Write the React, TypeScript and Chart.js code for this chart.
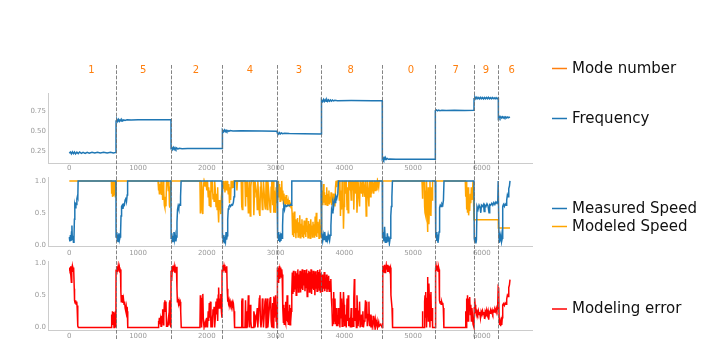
import React, { useEffect, useRef } from 'react';
import { Chart, registerables } from 'chart.js';

Chart.register(...registerables);

const W = 717;
const H = 339;
const X_MIN = -310;
const X_MAX = 6730;

const xTicks = [0, 1000, 2000, 3000, 4000, 5000, 6000];
const freqTicks = [0.25, 0.5, 0.75];
const unitTicks = [0, 0.5, 1];

const modeNumbers = ['1', '5', '2', '4', '3', '8', '0', '7', '9', '6'];
const modeLabelX = [320, 1076, 1843, 2628, 3341, 4093, 4970, 5620, 6061, 6435];
const modeBoundaries = [679, 1479, 2221, 3021, 3661, 4552, 5323, 5886, 6240];

type P = [number, number];

const frequency: P[] = [
  [0, 0.23], [15, 0.245], [30, 0.222], [45, 0.248], [60, 0.225], [75, 0.245], [90, 0.222], [110, 0.243], [130, 0.226], [150, 0.245], [175, 0.228], [200, 0.242], [230, 0.228], [260, 0.242], [290, 0.23], [330, 0.242], [370, 0.232], [410, 0.243], [450, 0.232], [500, 0.241], [550, 0.233], [600, 0.242], [640, 0.233], [679, 0.24],
  [680, 0.625], [692, 0.645], [704, 0.62], [716, 0.645], [728, 0.622], [740, 0.642], [752, 0.625], [764, 0.643], [778, 0.628], [792, 0.64], [810, 0.632], [840, 0.64], [900, 0.637], [1000, 0.64], [1200, 0.641], [1400, 0.642], [1479, 0.642],
  [1480, 0.285], [1490, 0.3], [1502, 0.275], [1514, 0.3], [1526, 0.277], [1538, 0.298], [1550, 0.279], [1562, 0.295], [1580, 0.282], [1600, 0.292], [1640, 0.285], [1720, 0.289], [1900, 0.287], [2100, 0.288], [2221, 0.289],
  [2222, 0.5], [2232, 0.515], [2244, 0.494], [2256, 0.515], [2268, 0.495], [2280, 0.513], [2292, 0.497], [2306, 0.51], [2320, 0.5], [2340, 0.508], [2380, 0.503], [2500, 0.505], [2800, 0.503], [3021, 0.5],
  [3022, 0.47], [3034, 0.485], [3046, 0.465], [3058, 0.482], [3070, 0.468], [3085, 0.48], [3100, 0.47], [3130, 0.476], [3200, 0.472], [3400, 0.47], [3661, 0.466],
  [3662, 0.87], [3674, 0.888], [3686, 0.865], [3698, 0.89], [3710, 0.866], [3722, 0.887], [3734, 0.868], [3746, 0.888], [3758, 0.867], [3770, 0.886], [3784, 0.869], [3798, 0.885], [3812, 0.87], [3828, 0.883], [3844, 0.872], [3862, 0.88], [3900, 0.876], [4100, 0.877], [4400, 0.876], [4552, 0.876],
  [4553, 0.16], [4563, 0.175], [4573, 0.152], [4583, 0.172], [4593, 0.153], [4603, 0.17], [4613, 0.155], [4625, 0.166], [4640, 0.156], [4660, 0.16], [4750, 0.156], [5000, 0.155], [5323, 0.155],
  [5324, 0.752], [5340, 0.762], [5356, 0.75], [5372, 0.76], [5390, 0.752], [5420, 0.758], [5480, 0.755], [5600, 0.757], [5750, 0.755], [5886, 0.757],
  [5887, 0.9], [5900, 0.92], [5914, 0.898], [5928, 0.918], [5942, 0.9], [5956, 0.915], [5970, 0.897], [5984, 0.917], [5998, 0.9], [6012, 0.914], [6026, 0.898], [6040, 0.915], [6054, 0.9], [6068, 0.914], [6082, 0.899], [6096, 0.916], [6110, 0.9], [6124, 0.913], [6138, 0.898], [6152, 0.915], [6166, 0.9], [6180, 0.912], [6194, 0.899], [6208, 0.913], [6222, 0.9], [6240, 0.91],
  [6241, 0.665], [6252, 0.682], [6264, 0.662], [6276, 0.68], [6288, 0.664], [6300, 0.678], [6312, 0.663], [6324, 0.677], [6336, 0.665], [6348, 0.676], [6360, 0.664], [6372, 0.675], [6384, 0.666], [6396, 0.674], [6410, 0.668],
];

const measuredSpeed: P[] = [
  [0, 0.12], [8, 0.05], [16, 0.15], [24, 0.06], [32, 0.2], [38, 0.3], [44, 0.08], [52, 0.14], [60, 0.04], [68, 0.1], [74, 0.4], [80, 0.62], [88, 0.58], [96, 0.64], [104, 0.63], [110, 0.72], [118, 0.76], [124, 0.74], [128, 1.0], [679, 1.0],
  [680, 0.12], [690, 0.2], [698, 0.06], [706, 0.16], [714, 0.05], [722, 0.18], [730, 0.08], [738, 0.12], [746, 0.2], [752, 0.45], [760, 0.6], [770, 0.62], [780, 0.56], [790, 0.63], [800, 0.62], [812, 0.7], [822, 0.74], [832, 0.68], [842, 0.78], [848, 1.0], [1479, 1.0],
  [1481, 0.1], [1490, 0.18], [1498, 0.05], [1506, 0.14], [1514, 0.06], [1522, 0.2], [1530, 0.08], [1540, 0.15], [1550, 0.05], [1558, 0.12], [1566, 0.35], [1574, 0.55], [1582, 0.6], [1592, 0.56], [1600, 0.63], [1610, 0.62], [1618, 0.75], [1626, 1.0], [2221, 1.0],
  [2223, 0.1], [2232, 0.18], [2240, 0.05], [2248, 0.15], [2256, 0.03], [2264, 0.12], [2272, 0.06], [2280, 0.2], [2288, 0.08], [2296, 0.14], [2304, 0.4], [2312, 0.56], [2322, 0.6], [2334, 0.62], [2346, 0.6], [2360, 0.63], [2374, 0.62], [2386, 0.66], [2396, 0.75], [2404, 1.0], [3021, 1.0],
  [3030, 0.1], [3038, 0.2], [3046, 0.06], [3054, 0.16], [3062, 0.04], [3070, 0.12], [3078, 0.06], [3086, 0.18], [3094, 0.1], [3102, 0.3], [3110, 0.56], [3120, 0.6], [3130, 0.55], [3140, 0.62], [3160, 0.6], [3180, 0.62], [3200, 0.61], [3220, 0.63], [3230, 0.62], [3236, 1.0], [3661, 1.0],
  [3665, 0.12], [3675, 0.18], [3685, 0.06], [3695, 0.15], [3705, 0.08], [3715, 0.2], [3725, 0.1], [3735, 0.05], [3745, 0.14], [3755, 0.08], [3765, 0.16], [3775, 0.1], [3785, 0.06], [3795, 0.15], [3805, 0.3], [3815, 0.55], [3825, 0.5], [3835, 0.65], [3845, 0.6], [3855, 0.7], [3865, 0.66], [3875, 0.76], [3890, 0.72], [3905, 0.8], [3915, 1.0], [4552, 1.0],
  [4556, 0.1], [4566, 0.2], [4576, 0.05], [4586, 0.28], [4596, 0.04], [4606, 0.12], [4616, 0.03], [4626, 0.18], [4636, 0.06], [4646, 0.13], [4656, 0.02], [4666, 0.1], [4676, 0.45], [4684, 0.6], [4692, 0.75], [4700, 1.0], [5323, 1.0],
  [5330, 0.12], [5338, 0.2], [5346, 0.06], [5354, 0.16], [5362, 0.03], [5370, 0.1], [5378, 0.2], [5386, 0.58], [5396, 0.62], [5408, 0.6], [5420, 0.64], [5432, 0.62], [5442, 0.7], [5450, 1.0], [5886, 1.0],
  [5890, 0.1], [5898, 0.04], [5906, 0.12], [5914, 0.02], [5922, 0.08], [5930, 0.6], [5945, 0.55], [5960, 0.62], [5975, 0.58], [5985, 0.5], [5995, 0.62], [6010, 0.6], [6025, 0.63], [6035, 0.52], [6045, 0.62], [6060, 0.6], [6075, 0.64], [6090, 0.61], [6105, 0.5], [6115, 0.63], [6130, 0.62], [6145, 0.65], [6160, 0.62], [6175, 0.66], [6190, 0.63], [6205, 0.67], [6220, 0.65], [6232, 0.68], [6238, 1.0], [6245, 1.0],
  [6250, 0.1], [6258, 0.03], [6266, 0.12], [6274, 0.05], [6282, 0.14], [6290, 0.06], [6298, 0.1], [6304, 0.6], [6315, 0.63], [6328, 0.6], [6340, 0.64], [6352, 0.62], [6362, 0.7], [6372, 0.78], [6382, 0.75], [6392, 0.88], [6402, 0.92], [6410, 1.0],
];

const modeledSpeed: P[] = [
  [0, 1.0], [612, 1.0], [616, 0.8], [622, 1.0], [628, 0.75], [636, 0.9], [642, 0.76], [650, 1.0], [656, 0.78], [664, 0.85], [670, 0.75], [676, 0.95], [679, 1.0],
  [1290, 1.0], [1296, 0.85], [1302, 1.0], [1310, 0.8], [1318, 0.95], [1326, 0.82], [1334, 1.0], [1342, 0.78], [1350, 0.9], [1358, 0.7], [1366, 1.0], [1374, 0.85], [1382, 0.62], [1390, 0.58], [1398, 0.75], [1406, 0.6], [1414, 1.0], [1430, 1.0], [1440, 0.85], [1448, 1.0], [1456, 0.62], [1462, 0.58], [1468, 0.9], [1479, 1.0],
  [1900, 1.0], [1906, 0.5], [1912, 0.85], [1918, 0.6], [1924, 1.0], [1934, 0.55], [1942, 0.48], [1950, 0.9], [1960, 1.0], [1975, 0.92], [1985, 1.0], [2000, 0.85], [2010, 1.0], [2020, 0.75], [2028, 0.9], [2036, 0.62], [2044, 0.85], [2052, 0.6], [2060, 1.0], [2070, 0.9], [2080, 1.0], [2090, 0.72], [2098, 0.8], [2106, 0.68], [2114, 1.0], [2124, 0.85], [2134, 0.6], [2142, 0.8], [2150, 0.55], [2158, 0.9], [2166, 0.5], [2172, 0.35], [2180, 0.7], [2188, 0.55], [2196, 0.6], [2204, 0.48], [2212, 0.75], [2221, 0.85],
  [2224, 0.95], [2232, 0.85], [2240, 1.0], [2248, 0.88], [2256, 0.95], [2264, 0.82], [2272, 1.0], [2280, 0.9], [2288, 0.85], [2296, 1.0], [2304, 0.9], [2312, 0.8], [2320, 0.95], [2330, 0.65], [2338, 0.9], [2346, 0.7], [2354, 1.0], [2364, 0.88], [2374, 1.0], [2384, 0.9], [2394, 1.0],
  [2430, 1.0], [2438, 0.85], [2446, 1.0], [2500, 1.0], [2508, 0.6], [2516, 0.55], [2524, 1.0], [2555, 1.0], [2563, 0.6], [2570, 1.0], [2582, 0.75], [2590, 1.0], [2604, 0.5], [2612, 0.8], [2620, 1.0], [2632, 0.45], [2640, 0.9], [2648, 1.0], [2676, 1.0], [2684, 0.46], [2692, 0.75], [2700, 1.0], [2726, 0.8], [2734, 0.55], [2742, 1.0], [2764, 0.5], [2772, 0.45], [2780, 0.9], [2788, 1.0], [2808, 0.55], [2816, 0.7], [2824, 1.0], [2846, 0.6], [2854, 0.55], [2862, 1.0], [2872, 0.7], [2880, 0.55], [2888, 1.0], [2920, 0.55], [2928, 0.5], [2936, 0.9], [2945, 1.0], [2958, 0.62], [2966, 1.0], [2975, 0.5], [2983, 0.85], [2992, 0.55], [3000, 0.5], [3008, 0.9], [3015, 0.65], [3021, 1.0],
  [3026, 0.9], [3034, 0.7], [3042, 1.0], [3050, 0.75], [3058, 0.95], [3066, 0.68], [3074, 0.9], [3082, 0.72], [3090, 1.0], [3098, 0.7], [3106, 0.85], [3114, 0.64], [3122, 0.8], [3130, 0.66], [3138, 0.75], [3146, 0.62], [3154, 0.78], [3162, 0.64], [3170, 0.72], [3178, 0.6], [3186, 0.68], [3194, 0.62], [3202, 0.7], [3210, 0.6], [3218, 0.66], [3226, 0.58], [3234, 0.62],
  [3240, 0.5], [3248, 0.15], [3256, 0.45], [3264, 0.12], [3272, 0.52], [3280, 0.18], [3288, 0.4], [3296, 0.1], [3304, 0.38], [3312, 0.2], [3320, 0.42], [3328, 0.12], [3336, 0.35], [3344, 0.15], [3352, 0.46], [3360, 0.11], [3368, 0.33], [3376, 0.18], [3384, 0.4], [3392, 0.12], [3400, 0.3], [3408, 0.1], [3416, 0.38], [3424, 0.16], [3432, 0.35], [3440, 0.12], [3448, 0.42], [3456, 0.2], [3464, 0.3], [3472, 0.11], [3480, 0.37], [3488, 0.14], [3496, 0.33], [3504, 0.1], [3512, 0.4], [3520, 0.18], [3528, 0.3], [3536, 0.12], [3544, 0.36], [3552, 0.15], [3560, 0.32], [3568, 0.11], [3576, 0.44], [3584, 0.14], [3592, 0.5], [3600, 0.12], [3608, 0.36], [3616, 0.18], [3624, 0.33], [3632, 0.1], [3640, 0.4], [3648, 0.14], [3656, 0.3], [3661, 0.12],
  [3664, 0.8], [3672, 0.65], [3680, 0.85], [3688, 0.62], [3696, 0.95], [3704, 0.66], [3712, 0.82], [3720, 0.63], [3728, 0.78], [3736, 0.64], [3744, 0.9], [3752, 0.62], [3760, 0.8], [3768, 0.65], [3776, 0.85], [3784, 0.63], [3792, 0.75], [3800, 0.66], [3808, 0.82], [3816, 0.62], [3824, 0.7], [3832, 0.64], [3840, 0.8], [3848, 0.62], [3856, 0.72], [3864, 0.6], [3872, 0.9], [3880, 1.0],
  [3890, 0.9], [3898, 1.0], [3920, 1.0], [3928, 0.7], [3936, 1.0], [3944, 0.45], [3952, 0.85], [3960, 0.55], [3968, 1.0], [3980, 0.75], [3988, 0.25], [3996, 0.6], [4004, 1.0], [4020, 0.8], [4028, 1.0], [4040, 0.55], [4048, 0.9], [4056, 0.5], [4064, 1.0], [4080, 0.85], [4088, 1.0], [4100, 0.7], [4108, 1.0], [4120, 0.85], [4130, 1.0], [4138, 0.55], [4146, 0.9], [4154, 1.0], [4168, 0.8], [4176, 1.0], [4184, 0.5], [4192, 0.7], [4200, 1.0], [4214, 0.75], [4222, 0.6], [4230, 1.0], [4250, 0.8], [4258, 1.0], [4270, 0.75], [4278, 1.0], [4300, 0.75], [4308, 1.0], [4318, 0.45], [4326, 0.6], [4334, 1.0], [4350, 0.75], [4358, 0.6], [4366, 1.0], [4380, 0.75], [4388, 1.0], [4400, 0.8], [4408, 1.0], [4428, 0.8], [4436, 1.0], [4450, 0.85], [4458, 1.0], [4475, 0.85], [4483, 1.0], [4500, 0.9], [4508, 1.0], [4552, 1.0],
  [5130, 1.0], [5136, 0.72], [5142, 1.0], [5160, 1.0], [5168, 0.6], [5174, 0.5], [5180, 0.85], [5188, 0.45], [5196, 1.0], [5204, 0.55], [5210, 0.2], [5216, 0.3], [5222, 0.9], [5230, 0.32], [5238, 0.6], [5246, 1.0], [5252, 0.5], [5260, 0.45], [5268, 0.9], [5276, 0.7], [5284, 1.0], [5323, 1.0],
  [5760, 1.0], [5766, 0.75], [5772, 1.0], [5780, 0.55], [5786, 0.85], [5792, 0.5], [5800, 0.9], [5808, 0.46], [5816, 0.6], [5824, 0.53], [5832, 0.8], [5840, 0.65], [5848, 0.9], [5856, 0.7], [5864, 0.8], [5872, 1.0], [5886, 1.0],
  [5887, 0.39], [6240, 0.39],
  [6241, 0.26], [6410, 0.26],
];

const modelingError: P[] = [
  [0, 0.88], [6, 0.93], [12, 0.85], [18, 0.95], [24, 0.82], [30, 0.7], [36, 0.9], [42, 0.94], [48, 0.86], [54, 0.92], [60, 0.88], [66, 0.93], [72, 0.6], [76, 0.42], [84, 0.38], [92, 0.42], [100, 0.36], [108, 0.4], [114, 0.3], [120, 0.34], [126, 0.02], [132, 0.0], [612, 0.0], [616, 0.2], [622, 0.05], [628, 0.25], [636, 0.1], [642, 0.24], [650, 0.0], [656, 0.22], [664, 0.15], [670, 0.25], [676, 0.05], [679, 0.0],
  [680, 0.9], [686, 0.95], [692, 0.82], [698, 0.94], [704, 0.86], [712, 0.95], [720, 0.88], [728, 0.93], [736, 0.85], [744, 0.9], [750, 0.55], [756, 0.4], [764, 0.42], [772, 0.5], [780, 0.38], [788, 0.44], [796, 0.36], [804, 0.4], [812, 0.3], [820, 0.26], [828, 0.32], [836, 0.22], [844, 0.25], [850, 0.0], [1290, 0.0], [1296, 0.1], [1302, 0.02], [1310, 0.15], [1318, 0.05], [1326, 0.12], [1334, 0.02], [1342, 0.18], [1350, 0.08], [1358, 0.28], [1366, 0.04], [1374, 0.15], [1382, 0.38], [1390, 0.42], [1398, 0.25], [1406, 0.4], [1414, 0.02], [1430, 0.02], [1440, 0.12], [1448, 0.03], [1456, 0.38], [1462, 0.42], [1468, 0.1], [1476, 0.05], [1479, 0.0],
  [1480, 0.88], [1486, 0.95], [1492, 0.72], [1498, 0.93], [1504, 0.86], [1510, 0.96], [1518, 0.88], [1526, 0.94], [1534, 0.85], [1542, 0.92], [1550, 0.88], [1558, 0.94], [1566, 0.6], [1572, 0.4], [1580, 0.44], [1588, 0.37], [1596, 0.42], [1604, 0.38], [1612, 0.4], [1620, 0.25], [1628, 0.0], [1900, 0.0], [1906, 0.5], [1912, 0.15], [1918, 0.4], [1924, 0.0], [1934, 0.45], [1942, 0.52], [1950, 0.1], [1960, 0.0], [1975, 0.08], [1985, 0.0], [2000, 0.15], [2010, 0.0], [2020, 0.25], [2028, 0.1], [2036, 0.38], [2044, 0.15], [2052, 0.4], [2060, 0.0], [2070, 0.1], [2080, 0.0], [2090, 0.28], [2098, 0.2], [2106, 0.32], [2114, 0.0], [2124, 0.15], [2134, 0.4], [2142, 0.2], [2150, 0.45], [2158, 0.1], [2166, 0.5], [2172, 0.62], [2180, 0.3], [2188, 0.45], [2196, 0.4], [2204, 0.52], [2212, 0.25], [2220, 0.15],
  [2222, 0.9], [2228, 0.96], [2234, 0.85], [2240, 0.97], [2246, 0.88], [2252, 0.95], [2258, 0.9], [2264, 0.97], [2270, 0.86], [2276, 0.94], [2282, 0.88], [2290, 0.95], [2296, 0.6], [2302, 0.4], [2308, 0.5], [2316, 0.38], [2324, 0.42], [2332, 0.36], [2340, 0.4], [2348, 0.35], [2356, 0.38], [2364, 0.34], [2372, 0.38], [2380, 0.3], [2388, 0.35], [2396, 0.25], [2404, 0.0], [2500, 0.0], [2508, 0.4], [2516, 0.45], [2524, 0.0], [2555, 0.0], [2563, 0.42], [2570, 0.0], [2582, 0.25], [2590, 0.0], [2604, 0.5], [2612, 0.2], [2620, 0.0], [2632, 0.35], [2640, 0.1], [2648, 0.0], [2676, 0.0], [2684, 0.25], [2692, 0.2], [2700, 0.0], [2726, 0.2], [2734, 0.3], [2742, 0.0], [2764, 0.45], [2772, 0.5], [2780, 0.1], [2788, 0.0], [2800, 0.15], [2808, 0.45], [2816, 0.3], [2824, 0.0], [2846, 0.4], [2854, 0.45], [2862, 0.0], [2872, 0.3], [2880, 0.45], [2888, 0.0], [2920, 0.45], [2928, 0.47], [2936, 0.1], [2945, 0.0], [2958, 0.38], [2966, 0.0], [2975, 0.48], [2983, 0.15], [2992, 0.45], [3000, 0.5], [3008, 0.1], [3015, 0.35], [3021, 0.0],
  [3024, 0.88], [3030, 0.93], [3036, 0.7], [3042, 0.92], [3048, 0.8], [3054, 0.95], [3060, 0.75], [3066, 0.9], [3072, 0.85], [3078, 0.93], [3084, 0.78], [3090, 0.9], [3096, 0.82], [3102, 0.6], [3108, 0.3], [3114, 0.08], [3120, 0.35], [3126, 0.05], [3132, 0.3], [3138, 0.1], [3144, 0.4], [3150, 0.06], [3156, 0.28], [3162, 0.1], [3168, 0.5], [3174, 0.08], [3180, 0.32], [3186, 0.05], [3192, 0.25], [3198, 0.1], [3204, 0.35], [3210, 0.04], [3216, 0.3], [3222, 0.08], [3230, 0.25], [3236, 0.55],
  [3244, 0.85], [3252, 0.52], [3260, 0.88], [3268, 0.55], [3276, 0.8], [3284, 0.6], [3292, 0.87], [3300, 0.5], [3308, 0.84], [3316, 0.62], [3324, 0.9], [3332, 0.55], [3340, 0.82], [3348, 0.66], [3356, 0.88], [3364, 0.54], [3372, 0.86], [3380, 0.6], [3388, 0.9], [3396, 0.58], [3404, 0.83], [3412, 0.65], [3420, 0.89], [3428, 0.56], [3436, 0.85], [3444, 0.62], [3452, 0.9], [3460, 0.48], [3468, 0.84], [3476, 0.6], [3484, 0.88], [3492, 0.55], [3500, 0.86], [3508, 0.64], [3516, 0.9], [3524, 0.52], [3532, 0.83], [3540, 0.6], [3548, 0.88], [3556, 0.58], [3564, 0.85], [3572, 0.5], [3580, 0.87], [3588, 0.6], [3596, 0.82], [3604, 0.56], [3612, 0.89], [3620, 0.62], [3628, 0.86], [3636, 0.58], [3644, 0.9], [3652, 0.55], [3660, 0.84],
  [3668, 0.6], [3676, 0.82], [3684, 0.55], [3692, 0.8], [3700, 0.6], [3708, 0.86], [3716, 0.56], [3724, 0.75], [3732, 0.6], [3740, 0.82], [3748, 0.55], [3756, 0.78], [3764, 0.6], [3772, 0.8], [3780, 0.56], [3788, 0.72], [3796, 0.62], [3804, 0.75], [3812, 0.45], [3820, 0.3], [3828, 0.02], [3836, 0.2], [3842, 0.05], [3849, 0.55], [3856, 0.1], [3864, 0.45], [3872, 0.05], [3880, 0.3], [3888, 0.02], [3898, 0.1], [3906, 0.02], [3914, 0.3], [3922, 0.05], [3930, 0.25], [3936, 0.0], [3944, 0.55], [3952, 0.15], [3960, 0.45], [3968, 0.02], [3980, 0.25], [3988, 0.55], [3996, 0.35], [4004, 0.02], [4012, 0.1], [4020, 0.2], [4028, 0.0], [4040, 0.45], [4048, 0.1], [4056, 0.5], [4064, 0.02], [4072, 0.12], [4080, 0.15], [4088, 0.0], [4100, 0.3], [4108, 0.0], [4120, 0.15], [4130, 0.02], [4138, 0.45], [4146, 0.75], [4152, 0.1], [4160, 0.3], [4168, 0.2], [4176, 0.0], [4184, 0.5], [4192, 0.3], [4200, 0.02], [4214, 0.25], [4222, 0.4], [4230, 0.0], [4250, 0.2], [4258, 0.02], [4270, 0.25], [4278, 0.0], [4290, 0.1], [4300, 0.25], [4308, 0.42], [4316, 0.15], [4326, 0.4], [4334, 0.02], [4350, 0.2], [4358, 0.4], [4366, 0.02], [4380, 0.2], [4388, 0.0], [4400, 0.18], [4408, 0.02], [4420, 0.1], [4428, 0.18], [4436, 0.02], [4450, 0.12], [4458, 0.02], [4475, 0.1], [4483, 0.0], [4500, 0.08], [4508, 0.02], [4530, 0.05], [4550, 0.0],
  [4556, 0.9], [4562, 0.96], [4568, 0.86], [4574, 0.95], [4580, 0.9], [4586, 0.97], [4592, 0.85], [4598, 0.95], [4604, 0.88], [4610, 0.96], [4616, 0.9], [4622, 0.97], [4628, 0.86], [4634, 0.94], [4640, 0.9], [4646, 0.96], [4652, 0.87], [4658, 0.95], [4664, 0.9], [4670, 0.93], [4678, 0.5], [4686, 0.4], [4694, 0.3], [4702, 0.0], [5130, 0.0], [5136, 0.25], [5142, 0.0], [5160, 0.0], [5168, 0.4], [5174, 0.5], [5180, 0.15], [5188, 0.55], [5196, 0.0], [5204, 0.45], [5210, 0.78], [5216, 0.7], [5222, 0.1], [5230, 0.68], [5238, 0.4], [5246, 0.0], [5252, 0.5], [5260, 0.55], [5268, 0.1], [5276, 0.3], [5284, 0.0], [5323, 0.0],
  [5328, 0.92], [5334, 0.96], [5340, 0.88], [5346, 0.95], [5352, 0.9], [5358, 0.96], [5364, 0.87], [5370, 0.94], [5378, 0.9], [5384, 0.42], [5392, 0.38], [5400, 0.41], [5408, 0.36], [5416, 0.4], [5424, 0.37], [5432, 0.38], [5440, 0.3], [5448, 0.0], [5760, 0.0], [5766, 0.25], [5772, 0.0], [5780, 0.45], [5786, 0.15], [5792, 0.5], [5800, 0.1], [5808, 0.45], [5816, 0.4], [5824, 0.47], [5832, 0.2], [5840, 0.35], [5848, 0.1], [5856, 0.3], [5864, 0.2], [5872, 0.05], [5886, 0.0],
  [5890, 0.3], [5896, 0.45], [5902, 0.35], [5908, 0.22], [5914, 0.28], [5920, 0.2], [5930, 0.25], [5940, 0.21], [5950, 0.26], [5960, 0.2], [5970, 0.24], [5980, 0.15], [5990, 0.25], [6000, 0.22], [6010, 0.26], [6020, 0.2], [6030, 0.24], [6040, 0.13], [6050, 0.25], [6060, 0.22], [6070, 0.27], [6080, 0.2], [6090, 0.25], [6100, 0.12], [6110, 0.24], [6120, 0.22], [6130, 0.26], [6140, 0.23], [6150, 0.27], [6160, 0.22], [6170, 0.26], [6180, 0.24], [6190, 0.28], [6200, 0.25], [6210, 0.3], [6220, 0.26], [6230, 0.3], [6238, 0.62],
  [6245, 0.6], [6252, 0.15], [6258, 0.04], [6266, 0.12], [6274, 0.02], [6282, 0.1], [6290, 0.04], [6298, 0.15], [6304, 0.35], [6315, 0.37], [6328, 0.34], [6340, 0.38], [6352, 0.36], [6362, 0.44], [6372, 0.5], [6382, 0.48], [6392, 0.62], [6402, 0.66], [6410, 0.74],
];

const BLUE = '#1f77b4';
const ORANGE = '#ffa500';
const MODE_ORANGE = '#ff7f0e';
const RED = '#ff0000';
const TICK_COLOR = '#9a9a9a';
const SPINE_COLOR = '#cccccc';
const FONT = '"DejaVu Sans", sans-serif';

const toXY = (arr: P[]) => arr.map(([x, y]) => ({ x, y }));

type LegendItem = { label: string; color: string; y: number };

function legendPlugin(items: LegendItem[]) {
  return {
    id: 'customLegend',
    afterDraw(chart: any) {
      const ctx = chart.ctx;
      const x0 = chart.chartArea.right + 20;
      ctx.save();
      items.forEach((it) => {
        ctx.strokeStyle = it.color;
        ctx.lineWidth = 1.5;
        ctx.beginPath();
        ctx.moveTo(x0, it.y);
        ctx.lineTo(x0 + 15, it.y);
        ctx.stroke();
        ctx.fillStyle = '#111';
        ctx.font = `15px ${FONT}`;
        ctx.textAlign = 'left';
        ctx.textBaseline = 'middle';
        ctx.fillText(it.label, x0 + 20, it.y + 0.5);
      });
      ctx.restore();
    },
  };
}

const modeLabelPlugin = {
  id: 'modeLabels',
  afterDraw(chart: any) {
    const ctx = chart.ctx;
    const xs = chart.scales.x;
    ctx.save();
    ctx.fillStyle = MODE_ORANGE;
    ctx.font = `10px ${FONT}`;
    ctx.textAlign = 'center';
    ctx.textBaseline = 'middle';
    modeNumbers.forEach((m, i) => {
      ctx.fillText(m, xs.getPixelForValue(modeLabelX[i]), 70);
    });
    ctx.restore();
  },
};

const boundaryPlugin = {
  id: 'boundaries',
  afterDraw(chart: any) {
    const ctx = chart.ctx;
    const xs = chart.scales.x;
    ctx.save();
    ctx.strokeStyle = 'rgba(110,110,110,0.85)';
    ctx.lineWidth = 1;
    ctx.setLineDash([3.7, 1.6]);
    modeBoundaries.forEach((b) => {
      const px = Math.round(xs.getPixelForValue(b)) + 0.5;
      ctx.beginPath();
      ctx.moveTo(px, 65);
      ctx.lineTo(px, H);
      ctx.stroke();
    });
    ctx.restore();
  },
};

function makeConfig(opts: {
  datasets: any[];
  yMin: number;
  yMax: number;
  yTicks: number[];
  decimals: number;
  padTop: number;
  padBottom: number;
  xAxisH: number;
  xPad: number;
  plugins: any[];
}) {
  return {
    type: 'line',
    data: { datasets: opts.datasets },
    options: {
      responsive: false,
      animation: false,
      events: [],
      layout: { padding: { left: 0, right: 185, top: opts.padTop, bottom: opts.padBottom } },
      plugins: { legend: { display: false }, tooltip: { enabled: false } },
      elements: { point: { radius: 0 }, line: { tension: 0 } },
      scales: {
        x: {
          type: 'linear',
          min: X_MIN,
          max: X_MAX,
          afterBuildTicks: (axis: any) => {
            axis.ticks = xTicks.map((v) => ({ value: v }));
          },
          afterFit: (axis: any) => {
            axis.height = opts.xAxisH;
          },
          grid: { display: false, drawTicks: false },
          border: { display: true, color: SPINE_COLOR, width: 1 },
          ticks: {
            color: TICK_COLOR,
            font: { family: FONT, size: 7 },
            padding: opts.xPad,
            maxRotation: 0,
            autoSkip: false,
            callback: (v: any) => String(v),
          },
        },
        y: {
          type: 'linear',
          min: opts.yMin,
          max: opts.yMax,
          afterBuildTicks: (axis: any) => {
            axis.ticks = opts.yTicks.map((v) => ({ value: v }));
          },
          afterFit: (axis: any) => {
            axis.width = 48;
          },
          grid: { display: false, drawTicks: false },
          border: { display: true, color: SPINE_COLOR, width: 1 },
          ticks: {
            color: TICK_COLOR,
            font: { family: FONT, size: 7 },
            padding: 2,
            autoSkip: false,
            callback: (v: any) => Number(v).toFixed(opts.decimals),
          },
        },
      },
    },
    plugins: opts.plugins,
  };
}

export default function App() {
  const freqRef = useRef<HTMLCanvasElement>(null);
  const speedRef = useRef<HTMLCanvasElement>(null);
  const errRef = useRef<HTMLCanvasElement>(null);

  useEffect(() => {
    const line = (label: string, data: P[], color: string) => ({
      label,
      data: toXY(data),
      borderColor: color,
      backgroundColor: color,
      borderWidth: 1.5,
      pointRadius: 0,
      fill: false,
    });

    const freqChart = new Chart(
      freqRef.current as HTMLCanvasElement,
      makeConfig({
        datasets: [line('Frequency', frequency, BLUE)],
        yMin: 0.11,
        yMax: 0.97,
        yTicks: freqTicks,
        decimals: 2,
        padTop: 93,
        padBottom: 165,
        xAxisH: 11,
        xPad: 1,
        plugins: [
          modeLabelPlugin,
          legendPlugin([
            { label: 'Mode number', color: MODE_ORANGE, y: 68.5 },
            { label: 'Frequency', color: BLUE, y: 118.5 },
          ]),
        ],
      }) as any
    );

    const speedChart = new Chart(
      speedRef.current as HTMLCanvasElement,
      makeConfig({
        datasets: [line('Measured Speed', measuredSpeed, BLUE), line('Modeled Speed', modeledSpeed, ORANGE)],
        yMin: -0.025,
        yMax: 1.05,
        yTicks: unitTicks,
        decimals: 1,
        padTop: 177.7,
        padBottom: 81.7,
        xAxisH: 11,
        xPad: 3,
        plugins: [
          legendPlugin([
            { label: 'Measured Speed', color: BLUE, y: 208.5 },
            { label: 'Modeled Speed', color: ORANGE, y: 226.5 },
          ]),
        ],
      }) as any
    );

    const errChart = new Chart(
      errRef.current as HTMLCanvasElement,
      makeConfig({
        datasets: [line('Modeling error', modelingError, RED)],
        yMin: -0.04,
        yMax: 1.03,
        yTicks: unitTicks,
        decimals: 1,
        padTop: 261,
        padBottom: 0,
        xAxisH: 9,
        xPad: 2,
        plugins: [legendPlugin([{ label: 'Modeling error', color: RED, y: 309 }]), boundaryPlugin],
      }) as any
    );

    return () => {
      freqChart.destroy();
      speedChart.destroy();
      errChart.destroy();
    };
  }, []);

  const cs: React.CSSProperties = { position: 'absolute', left: 0, top: 0, width: W, height: H };
  return (
    <div style={{ position: 'fixed', left: 0, top: 0, width: W, height: H, background: '#ffffff', overflow: 'hidden' }}>
      <canvas ref={freqRef} width={W} height={H} style={cs} />
      <canvas ref={speedRef} width={W} height={H} style={cs} />
      <canvas ref={errRef} width={W} height={H} style={cs} />
    </div>
  );
}
